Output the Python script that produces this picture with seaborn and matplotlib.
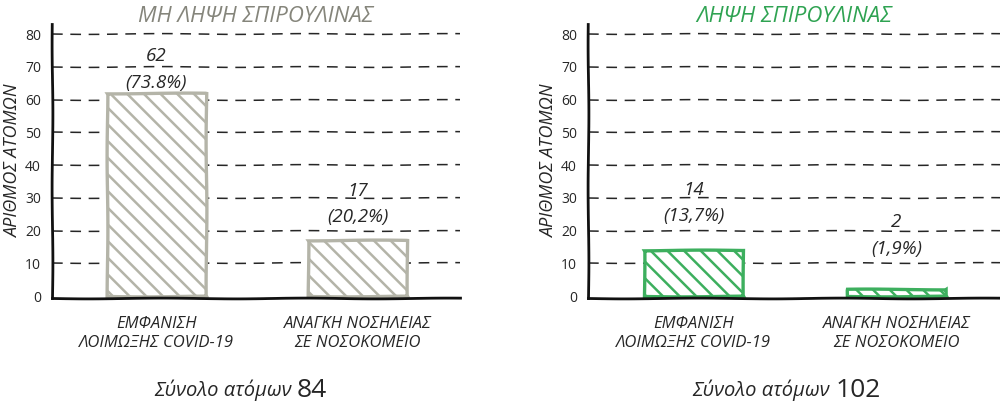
import numpy as np
import pandas as pd
import matplotlib
matplotlib.use("Agg")
import matplotlib.pyplot as plt
import seaborn as sns

# ==============================
# Data
# ==============================
categories = ["ΕΜΦΑΝΙΣΗ\nΛΟΙΜΩΞΗΣ COVID-19", "ΑΝΑΓΚΗ ΝΟΣΗΛΕΙΑΣ\nΣΕ ΝΟΣΟΚΟΜΕΙΟ"]
no_spirulina = [62, 17]
spirulina = [14, 2]
no_spirulina_pct = ["73.8%", "20,2%"]
spirulina_pct = ["13,7%", "1,9%"]
totals = [84, 102]
panel_titles = ["ΜΗ ΛΗΨΗ ΣΠΙΡΟΥΛΙΝΑΣ", "ΛΗΨΗ ΣΠΙΡΟΥΛΙΝΑΣ"]
y_ticks = [0, 10, 20, 30, 40, 50, 60, 70, 80]

# ==============================
# Style
# ==============================
sns.set_style("white")
plt.rcParams["font.family"] = ["Open Sans", "DejaVu Sans"]
plt.rcParams["hatch.linewidth"] = 1.8
plt.rcParams["path.sketch"] = (0.4, 150, 1.5)

ink = "#262626"
edge_colors = ["#b4b4a8", "#3daf5e"]
title_colors = ["#85857b", "#2fa352"]
label_gaps = [[1, 10], [18, 23]]  # points above the bar top

fig = plt.figure(figsize=(10, 4.05), dpi=100)
axes = [fig.add_axes([0.052, 0.265, 0.408, 0.675]),
        fig.add_axes([0.588, 0.265, 0.412, 0.675])]

panels = [(no_spirulina, no_spirulina_pct), (spirulina, spirulina_pct)]

for i, (ax, (vals, pcts)) in enumerate(zip(axes, panels)):
    df = pd.DataFrame({"cat": categories, "n": vals})

    # dashed guide lines behind the bars
    for t in y_ticks[1:]:
        ax.axhline(t, color=ink, lw=1.1, ls=(0, (7, 5)), zorder=0)

    sns.barplot(data=df, x="cat", y="n", ax=ax, width=0.49,
                color="white", edgecolor=edge_colors[i], linewidth=2.4,
                hatch="\\\\", zorder=2)

    for j, v in enumerate(vals):
        ax.annotate(f"{v}\n({pcts[j]})", xy=(j, v),
                    xytext=(0, label_gaps[i][j]), textcoords="offset points",
                    ha="center", va="bottom", fontsize=13.5, style="italic",
                    linespacing=1.6, color=ink)

    ax.set_xlim(-0.52, 1.51)
    ax.set_ylim(-0.5, 83)
    ax.set_yticks(y_ticks)
    ax.tick_params(axis="y", length=0, pad=8, labelsize=10, colors=ink)
    ax.tick_params(axis="x", length=0, pad=13)
    ax.set_xticks([0, 1])
    ax.set_xticklabels(categories, fontsize=12, style="italic",
                       linespacing=1.3, color=ink)
    ax.set_xlabel("")
    ax.set_ylabel("ΑΡΙΘΜΟΣ ΑΤΟΜΩΝ", fontsize=13, style="italic",
                  labelpad=2, color=ink)

    for s in ["top", "right"]:
        ax.spines[s].set_visible(False)
    for s in ["left", "bottom"]:
        ax.spines[s].set_color("#111111")
        ax.spines[s].set_linewidth(2)

    ax.set_title(panel_titles[i], fontsize=16, style="italic",
                 color=title_colors[i], pad=2)

    ax.text(0.6, -0.338, "Σύνολο ατόμων ", transform=ax.transAxes,
            ha="right", va="center", fontsize=14.5, style="italic",
            color=ink)
    ax.text(0.6, -0.338, f"{totals[i]}", transform=ax.transAxes,
            ha="left", va="center", fontsize=19, color=ink)

fig.savefig("out.png", dpi=100)
